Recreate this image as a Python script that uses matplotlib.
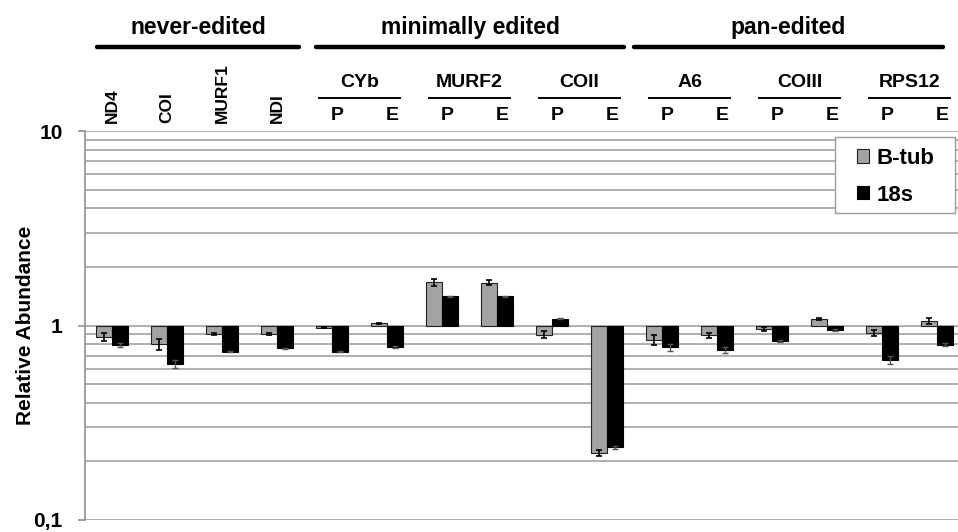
import matplotlib
matplotlib.use("Agg")
import matplotlib.pyplot as plt
import matplotlib.transforms as mtransforms
from matplotlib.patches import Rectangle
from matplotlib.ticker import FixedLocator, FixedFormatter, NullFormatter
import numpy as np

plt.rcParams['font.family'] = ['Liberation Sans', 'DejaVu Sans']

# ---- data ----
genes = ["ND4", "COI", "MURF1", "NDI", "CYb", "MURF2", "COII", "A6", "COIII", "RPS12"]
never_edited = ["ND4", "COI", "MURF1", "NDI"]
paired_genes = ["CYb", "MURF2", "COII", "A6", "COIII", "RPS12"]
forms = ["P", "E"]
groups = ["never-edited", "minimally edited", "pan-edited"]
series = ["B-tub", "18s"]

btub = [0.87, 0.80, 0.905, 0.905,
        0.973, 1.028, 1.67, 1.66, 0.898, 0.222,
        0.843, 0.891, 0.961, 1.078, 0.913, 1.053]
btub_err = [0.04, 0.05, 0.01, 0.01,
            0.005, 0.005, 0.07, 0.05, 0.035, 0.008,
            0.05, 0.025, 0.02, 0.01, 0.035, 0.04]
s18 = [0.797, 0.633, 0.733, 0.763,
       0.733, 0.772, 1.41, 1.41, 1.083, 0.236,
       0.772, 0.748, 0.833, 0.95, 0.664, 0.797]
s18_err = [0.02, 0.03, 0.005, 0.005,
           0.005, 0.008, 0.01, 0.01, 0.008, 0.003,
           0.03, 0.03, 0.01, 0.01, 0.03, 0.015]

yticks = [0.1, 1, 10]
ytick_labels = ["0,1", "1", "10"]

# ---- figure ----
W, H = 958, 532
fig = plt.figure(figsize=(W / 100, H / 100), dpi=100)
ax = fig.add_axes([85 / W, 12 / H, 873 / W, 389 / H])

n = len(btub)
x = np.arange(n)
bw = 0.29
grey = "#a3a3a3"

ax.set_yscale("log")
ax.set_ylim(0.1, 10)
ax.set_xlim(-0.49, 15.38)

# grid
for dec in [0.1, 1]:
    for m in range(1, 10):
        ax.axhline(dec * m, color="#afafaf", lw=1.4, zorder=0)
ax.axhline(10, color="#afafaf", lw=1.4, zorder=0)

b = np.array(btub)
s = np.array(s18)
ax.bar(x - bw / 2, b - 1, bottom=1, width=bw, color=grey, edgecolor="#222222",
       linewidth=0.8, zorder=2, label=series[0])
ax.bar(x + bw / 2, s - 1, bottom=1, width=bw, color="black", edgecolor="black",
       linewidth=0.8, zorder=2, label=series[1])
ax.errorbar(x - bw / 2, b, yerr=btub_err, fmt="none", ecolor="black",
            elinewidth=1.2, capsize=2.5, capthick=1.2, zorder=3)
ax.errorbar(x + bw / 2, s, yerr=s18_err, fmt="none", ecolor="#555555",
            elinewidth=1.0, capsize=2.5, capthick=1.0, zorder=3)

# axes styling
for sp in ["top", "right", "bottom"]:
    ax.spines[sp].set_visible(False)
ax.spines["left"].set_color("#999999")
ax.spines["left"].set_linewidth(1.3)
ax.set_xticks([])
ax.yaxis.set_major_locator(FixedLocator(yticks))
ax.yaxis.set_major_formatter(FixedFormatter(ytick_labels))
ax.yaxis.set_minor_formatter(NullFormatter())
ax.tick_params(axis="y", which="major", length=5, width=1.3, color="#999999",
               labelsize=15, pad=11)
ax.tick_params(axis="y", which="minor", length=0)
for lab in ax.get_yticklabels():
    lab.set_fontweight("bold")
ax.set_ylabel("Relative Abundance", fontsize=15, fontweight="bold", labelpad=-1)

# legend (frame drawn separately)
def axx(px):
    return (px - 85) / 873

def ya(py):
    return 1 + (131 - py) / 389

leg = ax.legend(loc="upper left", bbox_to_anchor=(axx(857), ya(148)), frameon=False,
                prop={"size": 16, "weight": "bold"},
                handlelength=0.55, handleheight=0.55, handletextpad=0.35,
                borderpad=0.0, labelspacing=0.7, borderaxespad=0)
frame = Rectangle((axx(835), ya(213)), axx(955) - axx(835), ya(137) - ya(213),
                  transform=ax.transAxes, facecolor="white", edgecolor="#999999",
                  linewidth=1.0, zorder=4)
ax.add_patch(frame)
leg.set_zorder(5)

# top annotations
tr = mtransforms.blended_transform_factory(ax.transData, ax.transAxes)

# group headers
hdr_spans = [(-0.27, 3.4), (3.71, 9.31), (9.49, 15.1)]
for name, (x0, x1) in zip(groups, hdr_spans):
    ax.plot([x0, x1], [ya(47)] * 2, color="black", lw=3.2, transform=tr,
            clip_on=False, solid_capstyle="round")
    ax.text((x0 + x1) / 2, ya(27), name, transform=tr, ha="center", va="center",
            fontsize=16.5, fontweight="bold")

# never-edited gene labels (rotated)
for i, g in enumerate(never_edited):
    ax.text(i, ya(123), g, transform=tr, rotation=90, ha="center", va="bottom",
            fontsize=12.5, fontweight="bold")

# paired gene labels
for k, g in enumerate(paired_genes):
    i0 = len(never_edited) + 2 * k
    c = i0 + 0.5
    ax.plot([c - 0.74, c + 0.74], [ya(98)] * 2, color="black", lw=1.4,
            transform=tr, clip_on=False)
    ax.text(c, ya(82), g, transform=tr, ha="center", va="center",
            fontsize=14, fontweight="bold")
    for j, f in enumerate(forms):
        ax.text(i0 + j + 0.1, ya(115), f, transform=tr, ha="center", va="center",
                fontsize=14, fontweight="bold")

fig.savefig("out.png", dpi=100)
